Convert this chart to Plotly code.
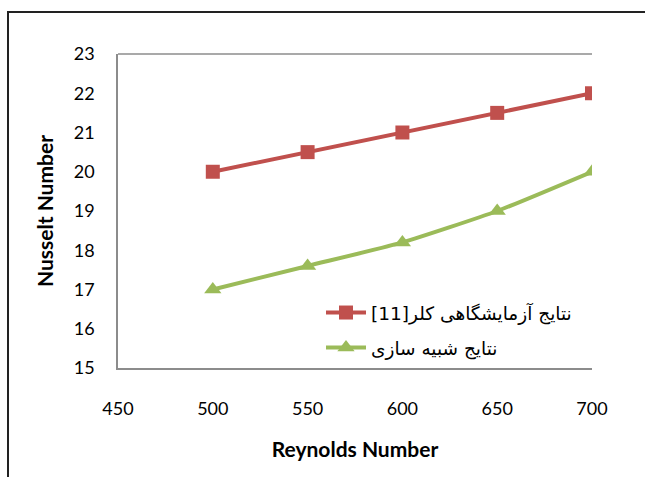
import plotly.graph_objects as go

# Reynolds number on the x axis
reynolds = [500, 550, 600, 650, 700]

# Nusselt number: laboratory results (Kollar [11]) and simulation results
nu_experiment = [20.0, 20.5, 21.0, 21.5, 22.0]
nu_simulation = [17.0, 17.6, 18.2, 19.0, 20.0]

name_experiment = "[11]نتایج آزمایشگاهی کلر"
name_simulation = "نتایج شبیه سازی"

x_ticks = [450, 500, 550, 600, 650, 700]
y_ticks = [15, 16, 17, 18, 19, 20, 21, 22, 23]

RED = "#C0504D"
GREEN = "#9BBB59"
AXIS_GRAY = "#8C8C8C"
TICK_FONT = dict(family="Lato, 'Open Sans', sans-serif", size=18, color="#000000")
TITLE_FONT = dict(family="Lato, 'Open Sans', sans-serif", size=21, color="#000000")

fig = go.Figure()
fig.add_trace(go.Scatter(
    x=reynolds, y=nu_experiment, name=name_experiment,
    mode="lines+markers", legendgroup="a",
    line=dict(color=RED, width=4),
    marker=dict(symbol="square", size=14, color=RED),
))
fig.add_trace(go.Scatter(
    x=reynolds, y=nu_simulation, name=name_simulation,
    mode="lines+markers", legendgroup="b",
    line=dict(color=GREEN, width=4, shape="spline", smoothing=0.5),
    marker=dict(symbol="triangle-up", size=15, color=GREEN),
))

# px -> paper conversion for the outer frame and legend
L, R, T, B = 118, 592, 54, 368
W, H = 645, 477
def px(xp):
    return (xp - L) / (R - L)
def py(yp):
    return (B - yp) / (B - T)

fig.update_layout(
    width=W, height=H,
    margin=dict(l=L, r=W - R, t=T, b=H - B),
    paper_bgcolor="white", plot_bgcolor="white",
    showlegend=True,
    legend=dict(
        x=px(321), y=py(294), xanchor="left", yanchor="top",
        bgcolor="rgba(0,0,0,0)",
        font=dict(family="'DejaVu Sans', Tahoma, sans-serif", size=18.5, color="#000000"),
        tracegroupgap=8, traceorder="grouped",
        itemwidth=40,
    ),
    xaxis=dict(
        range=[450, 700], tickvals=x_ticks, ticktext=[str(v) for v in x_ticks],
        showgrid=False, zeroline=False,
        showline=True, linecolor=AXIS_GRAY, linewidth=1.5,
        ticks="", ticklabelstandoff=24,
        tickfont=TICK_FONT,
        title=dict(text="<b>Reynolds Number</b>", standoff=24, font=TITLE_FONT),
    ),
    yaxis=dict(
        range=[15, 23], tickvals=y_ticks, ticktext=[str(v) for v in y_ticks],
        showgrid=False, zeroline=False,
        showline=True, linecolor=AXIS_GRAY, linewidth=1.5,
        ticks="", ticklabelstandoff=18,
        tickfont=TICK_FONT,
        title=dict(text="<b>Nusselt Number</b>", standoff=14, font=TITLE_FONT),
    ),
    shapes=[
        # top edge of the plot area
        dict(type="line", xref="paper", yref="paper", x0=0, x1=1, y0=1, y1=1,
             line=dict(color=AXIS_GRAY, width=1.5)),
        # outer chart frame
        dict(type="rect", xref="paper", yref="paper",
             x0=px(8), x1=px(660), y0=py(490), y1=py(12),
             line=dict(color="#222222", width=2), fillcolor="rgba(0,0,0,0)", layer="below"),
    ],
)

fig.write_html("out.html")
